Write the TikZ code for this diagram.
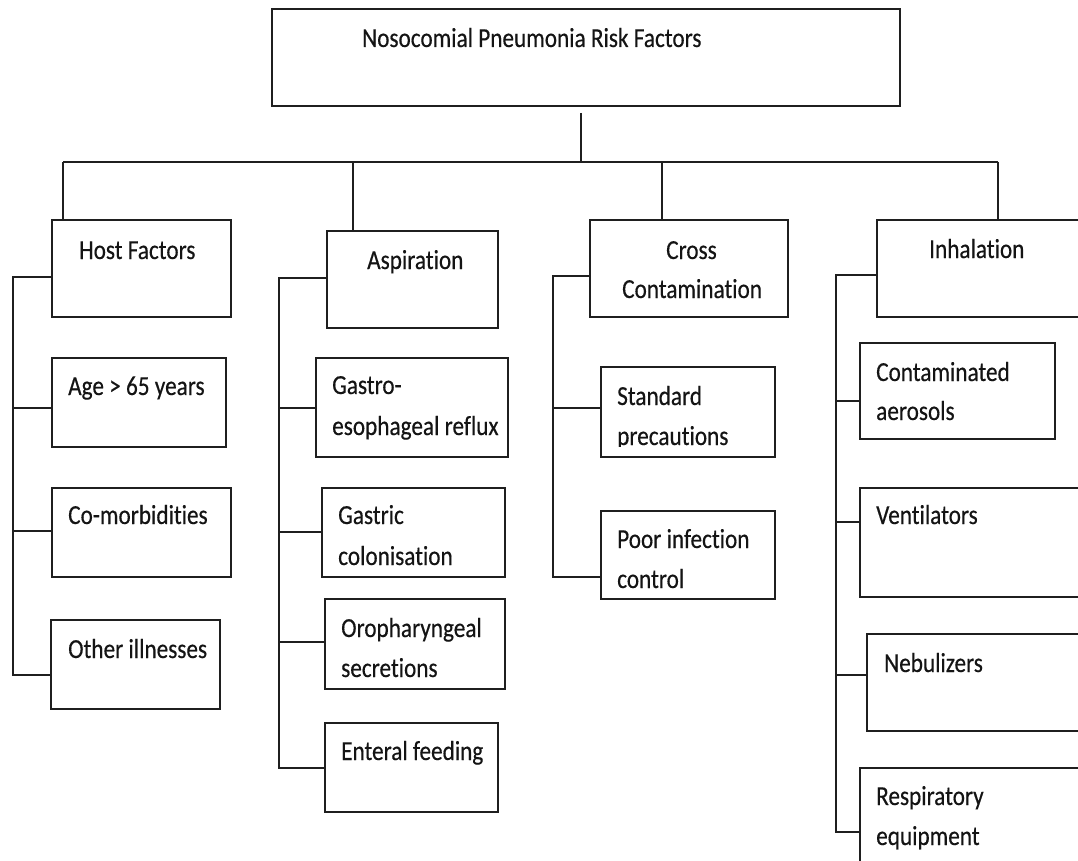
\documentclass[tikz,border=0pt]{standalone}
\usepackage{fontspec}
\setmainfont{Carlito}[FakeStretch=0.845,FakeBold=0.4,Ligatures={NoCommon}]
\begin{document}
\begin{tikzpicture}[x=1pt,y=-1pt,
  line/.style={draw=black!88,line width=1.8pt},
  box/.style={line,rectangle,inner sep=0pt,outer sep=0pt,anchor=north west},
  txt/.style={anchor=base west,inner sep=0pt,text=black!92,font=\fontsize{27.5}{40}\selectfont}]
\useasboundingbox (0,0) rectangle (1078,861);
\clip (0,0) rectangle (1078,861);
% boxes
\node[box,minimum width=628pt,minimum height=97pt] (title) at (272,9) {};
\node[box,minimum width=179pt,minimum height=97pt] (host) at (52,220) {};
\node[box,minimum width=171pt,minimum height=97pt] (asp) at (327,231) {};
\node[box,minimum width=198pt,minimum height=97pt] (cross) at (590,220) {};
\node[box,minimum width=250pt,minimum height=97pt] (inh) at (877,220) {};
\node[box,minimum width=174pt,minimum height=89pt] (age) at (52,358) {};
\node[box,minimum width=179pt,minimum height=89pt] (comorb) at (52,488) {};
\node[box,minimum width=169pt,minimum height=89pt] (oth) at (51,620) {};
\node[box,minimum width=192pt,minimum height=99pt] (gastro) at (316,358) {};
\node[box,minimum width=183pt,minimum height=89pt] (gastric) at (322,488) {};
\node[box,minimum width=180pt,minimum height=90pt] (oro) at (325,599) {};
\node[box,minimum width=173pt,minimum height=89pt] (ent) at (325,723) {};
\node[box,minimum width=174pt,minimum height=90pt] (std) at (601,367) {};
\node[box,minimum width=174pt,minimum height=88pt] (poor) at (601,511) {};
\node[box,minimum width=195pt,minimum height=96pt] (cont) at (860,343) {};
\node[box,minimum width=250pt,minimum height=109pt] (vent) at (860,488) {};
\node[box,minimum width=250pt,minimum height=97pt] (neb) at (867,634) {};
\node[box,minimum width=250pt,minimum height=130pt] (resp) at (860,768) {};
% texts
\node[txt] (titleT) at (362,47) {Nosocomial Pneumonia Risk Factors};
\node[txt] (hostT) at (79,259) {Host Factors};
\node[txt] (aspT) at (367,269) {Aspiration};
\node[txt] (crossT1) at (666,259) {Cross};
\node[txt] (crossT2) at (622,298) {Contamination};
\node[txt] (inhT) at (929,258) {Inhalation};
\node[txt] (ageT) at (68,395) {Age > 65 years};
\node[txt] (comorbT) at (68,524) {Co-morbidities};
\node[txt] (othT) at (68,658) {Other illnesses};
\node[txt] (gastroT1) at (332,394) {Gastro-};
\node[txt] (gastroT2) at (332,435) {esophageal reflux};
\node[txt] (gastricT1) at (338,524) {Gastric};
\node[txt] (gastricT2) at (338,565) {colonisation};
\node[txt] (oroT1) at (341,637) {Oropharyngeal};
\node[txt] (oroT2) at (341,677) {secretions};
\node[txt] (entT) at (341,760) {Enteral feeding};
\node[txt] (stdT1) at (617,405) {Standard};
\begin{scope}
\clip (600,420) rectangle (780,446);
\node[txt] (stdT2) at (617,445) {precautions};
\end{scope}
\node[txt] (poorT1) at (617,548) {Poor infection};
\node[txt] (poorT2) at (617,588) {control};
\node[txt] (contT1) at (876,381) {Contaminated};
\node[txt] (contT2) at (876,420) {aerosols};
\node[txt] (ventT) at (876,524) {Ventilators};
\node[txt] (nebT) at (884,672) {Nebulizers};
\node[txt] (respT1) at (876,805) {Respiratory};
\node[txt] (respT2) at (876,845) {equipment};
% bus
\coordinate (stemtop) at (581,113);
\coordinate (j0) at (581,162);
\coordinate (dHost) at (63,162);
\coordinate (dAsp) at (353,162);
\coordinate (dCross) at (662,162);
\coordinate (dInh) at (998,162);
\draw[line] (stemtop) -- (j0);
\draw[line] (dHost) -- (dInh);
\draw[line] (dHost) -- (dHost |- host.north);
\draw[line] (dAsp) -- (dAsp |- asp.north);
\draw[line] (dCross) -- (dCross |- cross.north);
\draw[line] (dInh) -- (dInh |- inh.north);
% host spine
\coordinate (hT) at (13,277);
\coordinate (hA) at (13,408);
\coordinate (hC) at (13,531);
\coordinate (hO) at (13,675);
\draw[line] (hT -| host.west) -- (hT) -- (hO) -- (hO -| oth.west);
\draw[line] (hA) -- (hA -| age.west);
\draw[line] (hC) -- (hC -| comorb.west);
% aspiration spine
\coordinate (aT) at (279,278);
\coordinate (aG) at (279,408);
\coordinate (aC) at (279,532);
\coordinate (aO) at (279,642);
\coordinate (aE) at (279,768);
\draw[line] (aT -| asp.west) -- (aT) -- (aE) -- (aE -| ent.west);
\draw[line] (aG) -- (aG -| gastro.west);
\draw[line] (aC) -- (aC -| gastric.west);
\draw[line] (aO) -- (aO -| oro.west);
% cross spine
\coordinate (cT) at (553,276);
\coordinate (cS) at (553,408);
\coordinate (cP) at (553,577);
\draw[line] (cT -| cross.west) -- (cT) -- (cP) -- (cP -| poor.west);
\draw[line] (cS) -- (cS -| std.west);
% inhalation spine
\coordinate (iT) at (836,275);
\coordinate (iC) at (836,401);
\coordinate (iV) at (836,522);
\coordinate (iN) at (836,675);
\coordinate (iR) at (836,832);
\draw[line] (iT -| inh.west) -- (iT) -- (iR) -- (iR -| resp.west);
\draw[line] (iC) -- (iC -| cont.west);
\draw[line] (iV) -- (iV -| vent.west);
\draw[line] (iN) -- (iN -| neb.west);
\end{tikzpicture}
\end{document}
